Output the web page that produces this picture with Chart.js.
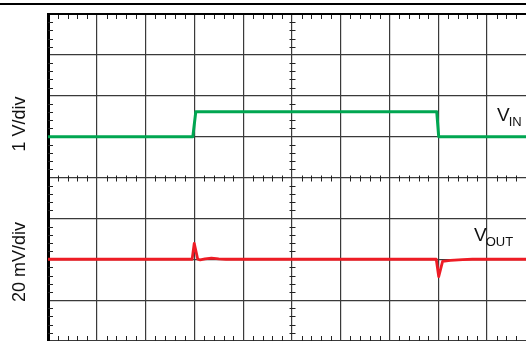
<!DOCTYPE html>
<html>
<head>
<meta charset="utf-8">
<title>VIN / VOUT transient</title>
<style>
  body { margin: 0; background: #fff; }
  canvas { display: block; }
</style>
</head>
<body>
<canvas id="scope" width="526" height="341"></canvas>

<script src="https://cdn.jsdelivr.net/npm/chart.js@4/dist/chart.umd.min.js"></script>
<script>
// time in screen divisions, VIN in volts (1 V/div), VOUT deviation in mV (20 mV/div)
const vinTime  = [0, 2.97, 3.03, 7.97, 8.01, 9.8];
const vinVolts = [0, 0, 0.61, 0.61, 0, 0];

const voutTime = [0, 2.955, 2.998, 3.07, 3.12, 3.22, 3.35, 3.5, 3.65, 7.96, 8.01, 8.09, 8.25, 8.5, 8.7, 9.8];
const voutMv   = [0, 0, 7.8, 0, -0.3, 0.2, 0.5, 0.2, 0, 0, -8.5, -1.0, -0.6, -0.2, 0, 0];

const yLabels = ['1 V/div', '20 mV/div'];
const traceNames = [['V', 'IN'], ['V', 'OUT']];

// where each channel's zero sits on the 8-division screen
const vinZeroDiv = 5, vinPerDiv = 1;
const voutZeroDiv = 2, voutPerDiv = 20;

const font = '"Liberation Sans", Arial, sans-serif';

const vinPoints = vinTime.map((t, i) => ({ x: t, y: vinZeroDiv + vinVolts[i] / vinPerDiv }));
const voutPoints = voutTime.map((t, i) => ({ x: t, y: voutZeroDiv + voutMv[i] / voutPerDiv }));

// minor ticks on the frame and the centre cross, plus the frame lines
const scopeFrame = {
  id: 'scopeFrame',
  beforeDatasetsDraw(chart) {
    const { ctx, chartArea: a, scales: { x, y } } = chart;
    ctx.save();
    ctx.strokeStyle = '#222';
    ctx.lineWidth = 1;
    ctx.beginPath();
    const cy = Math.round(y.getPixelForValue(4)) + 0.5;
    const cx = Math.round(x.getPixelForValue(5)) + 0.5;
    for (let i = 1; i <= 49; i++) {
      if (i % 5 === 0) continue;
      const px = Math.round(x.getPixelForValue(i / 5)) + 0.5;
      ctx.moveTo(px, a.top); ctx.lineTo(px, a.top + 5);
      ctx.moveTo(px, a.bottom); ctx.lineTo(px, a.bottom - 5);
      ctx.moveTo(px, cy - 3); ctx.lineTo(px, cy + 3);
    }
    for (let i = 1; i < 40; i++) {
      if (i % 5 === 0) continue;
      const py = Math.round(y.getPixelForValue(i / 5)) + 0.5;
      ctx.moveTo(a.left, py); ctx.lineTo(a.left + 5, py);
      ctx.moveTo(cx - 3, py); ctx.lineTo(cx + 3, py);
    }
    ctx.stroke();

    // top edge of the screen and the rule above it
    ctx.strokeStyle = '#000';
    ctx.lineWidth = 2;
    ctx.beginPath();
    ctx.moveTo(a.left, a.top); ctx.lineTo(a.right, a.top);
    ctx.moveTo(0, 4); ctx.lineTo(chart.width, 4);
    ctx.stroke();
    ctx.restore();
  },
  afterDraw(chart) {
    const { ctx } = chart;
    ctx.save();
    ctx.fillStyle = '#111';

    // channel scale labels, rotated
    ctx.font = '18px ' + font;
    ctx.textAlign = 'center';
    ctx.textBaseline = 'alphabetic';
    const labelY = [124, 262];
    yLabels.forEach((txt, i) => {
      ctx.save();
      ctx.translate(25, labelY[i]);
      ctx.rotate(-Math.PI / 2);
      ctx.fillText(txt, 0, 0);
      ctx.restore();
    });

    // trace names with subscripts
    ctx.textAlign = 'left';
    const namePos = [[497, 121], [474, 241]];
    traceNames.forEach((n, i) => {
      const [nx, ny] = namePos[i];
      ctx.font = '19px ' + font;
      ctx.fillText(n[0], nx, ny);
      const w = ctx.measureText(n[0]).width;
      ctx.font = '13px ' + font;
      ctx.fillText(n[1], nx + w - 1, ny + 5);
    });
    ctx.restore();
  }
};

const ctx = document.getElementById('scope').getContext('2d');
const chart = new Chart(ctx, {
  type: 'line',
  data: {
    datasets: [
      {
        label: 'VIN',
        data: vinPoints,
        borderColor: '#00a651',
        borderWidth: 3,
        pointRadius: 0,
        tension: 0,
        borderJoinStyle: 'round'
      },
      {
        label: 'VOUT',
        data: voutPoints,
        borderColor: '#ee1c25',
        borderWidth: 2.8,
        pointRadius: 0,
        tension: 0,
        borderJoinStyle: 'round'
      }
    ]
  },
  options: {
    responsive: false,
    animation: false,
    layout: { padding: { left: 48, top: 14, right: 0, bottom: 0 } },
    plugins: {
      legend: { display: false },
      tooltip: { enabled: false }
    },
    scales: {
      x: {
        type: 'linear',
        min: 0,
        max: 9.8,
        ticks: { display: false, stepSize: 1, includeBounds: false },
        grid: { color: '#3a3a3a', lineWidth: 1.2, drawTicks: false },
        border: { display: false }
      },
      y: {
        type: 'linear',
        min: 0,
        max: 8,
        ticks: { display: false, stepSize: 1 },
        grid: { color: '#3a3a3a', lineWidth: 1.2, drawTicks: false },
        border: { display: true, color: '#000', width: 3 }
      }
    }
  },
  plugins: [scopeFrame]
});
</script>
</body>
</html>
